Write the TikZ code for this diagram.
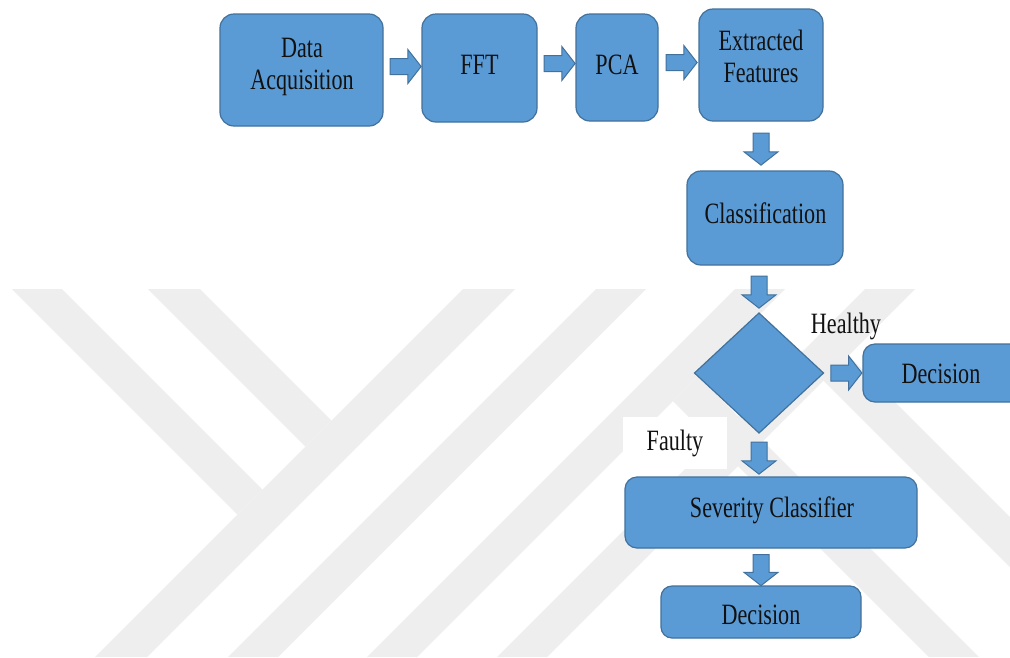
\documentclass[tikz,border=0pt]{standalone}
\usepackage{fontspec}
\setmainfont{Liberation Serif}[FakeStretch=0.75]
\usetikzlibrary{shapes.geometric,shapes.arrows,calc}

\definecolor{boxfill}{HTML}{5B9BD5}
\definecolor{boxline}{HTML}{41719C}
\definecolor{markgray}{HTML}{EEEEEE}
\definecolor{ink}{HTML}{111111}

\begin{document}
\begin{tikzpicture}[x=1pt,y=-1pt,
  flowbox/.style={draw=boxline, fill=boxfill, line width=1.2pt,
    rounded corners=14pt, inner sep=0pt, outer sep=0pt},
  smallbox/.style={flowbox, rounded corners=11pt},
  decisionshape/.style={diamond, draw=boxline, fill=boxfill, line width=1.2pt,
    inner sep=0pt, outer sep=0pt, minimum width=129pt, minimum height=120pt,
    aspect=1.075},
  blockarrow/.style={single arrow, draw=boxline, fill=boxfill, line width=1pt,
    inner sep=7.5pt, outer sep=0pt, single arrow head extend=9pt,
    single arrow tip angle=104, minimum height=31pt},
  downarrow/.style={blockarrow, shape border rotate=270},
  caption/.style={font=\fontsize{29.5}{32}\selectfont, text=ink, inner sep=0pt},
  band/.style={fill=markgray}
]
\useasboundingbox (0,0) rectangle (1010,657);
\clip (0,0) rectangle (1010,657);
\fill[white] (0,0) rectangle (1010,657);

% background emblem: diagonal bands
\fill[band] (12,289) -- (62,289) -- (262.5,489.5) -- (237.5,514.5) -- cycle;
\fill[band] (463,289) -- (515,289) -- (147,657) -- (95,657) -- cycle;
\fill[band] (148,289) -- (200,289) -- (331.5,420.5) -- (305.5,446.5) -- cycle;
\fill[band] (596,289) -- (646,289) -- (278,657) -- (228,657) -- cycle;
\fill[band] (735,289) -- (785,289) -- (417,657) -- (367,657) -- cycle;
\fill[band] (865,289) -- (915,289) -- (547,657) -- (497,657) -- cycle;
\fill[band] (673,401) -- (698,376) -- (979,657) -- (929,657) -- cycle;
\fill[band] (823.5,380.5) -- (848.5,355.5) -- (1150,657) -- (1100,657) -- cycle;

% process boxes
\node[flowbox, minimum width=163pt, minimum height=112pt] (daq) at (301.5,70) {};
\node[flowbox, minimum width=115pt, minimum height=108pt] (fft) at (479.5,68) {};
\node[flowbox, minimum width=82pt, minimum height=107pt] (pca) at (617,67.5) {};
\node[flowbox, minimum width=124pt, minimum height=112pt] (ef) at (761,65) {};
\node[flowbox, minimum width=156pt, minimum height=94pt] (cls) at (765,218) {};
\node[decisionshape] (dia) at (759,373) {};
\node[smallbox, rounded corners=12pt, minimum width=167pt, minimum height=58pt] (decR) at (946.5,373) {};
\node[smallbox, rounded corners=12pt, minimum width=292pt, minimum height=71pt] (sev) at (771,512.5) {};
\node[smallbox, minimum width=200pt, minimum height=52pt] (decB) at (761,612) {};

% box texts
\node[caption, align=center, anchor=center] (daq-t) at (302,66.5) {Data\\Acquisition};
\node[caption, anchor=base] (fft-t) at (479.5,74) {FFT};
\node[caption, anchor=base] (pca-t) at (617,74) {PCA};
\node[caption, align=center, anchor=center] (ef-t) at (761,56) {Extracted\\Features};
\node[caption, anchor=base] (cls-t) at (765.5,223) {Classification};
\node[caption, anchor=base] (decR-t) at (941,383) {Decision};
\node[caption, anchor=base] (sev-t) at (772,517) {Severity Classifier};
\node[caption, anchor=base] (decB-t) at (761,624) {Decision};

% branch labels
\node[caption, anchor=base] (healthy) at (846,333) {Healthy};
\node[caption, fill=white, minimum width=104pt, minimum height=52pt] (faulty) at (675,443) {Faulty};

% block arrows between the steps
\node[blockarrow, yshift=3.5pt] (a1) at ($(daq.east)!0.5!(daq.east -| fft.west)$) {};
\node[blockarrow, yshift=4.5pt] (a2) at ($(fft.east)!0.5!(fft.east -| pca.west)$) {};
\node[blockarrow, yshift=5pt] (a3) at ($(pca.east)!0.5!(pca.east -| ef.west)$) {};
\node[downarrow, minimum height=32pt] (a4) at ($(ef.south)!0.5!(ef.south |- cls.north)$) {};
\node[downarrow, minimum height=32pt] (a5) at ($(dia.north)!0.5!(dia.north |- cls.south)$) {};
\node[blockarrow] (a6) at ($(dia.east)!0.5!(decR.west)$) {};
\node[downarrow, minimum height=32pt] (a7) at ($(dia.south)!0.5!(dia.south |- sev.north)$) {};
\node[downarrow] (a8) at ($(decB.north)!0.5!(decB.north |- sev.south)$) {};
\end{tikzpicture}
\end{document}
